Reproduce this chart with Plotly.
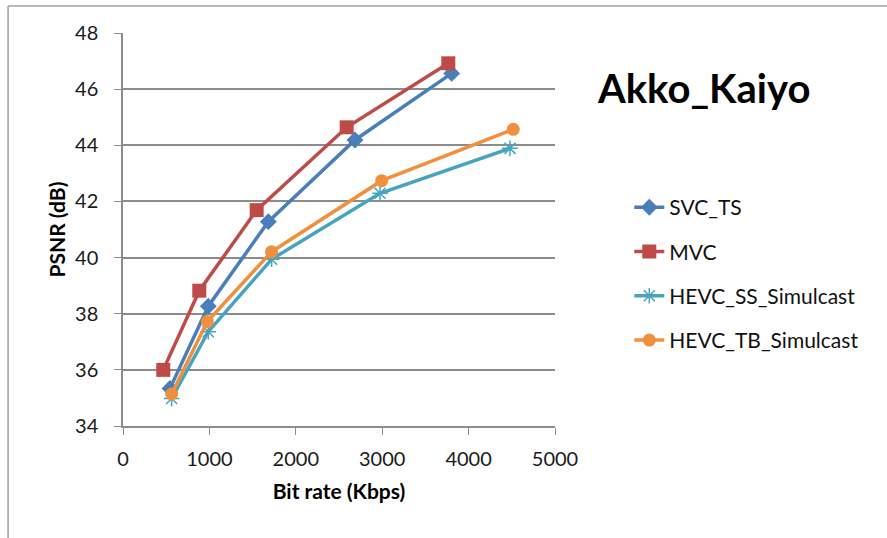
import plotly.graph_objects as go

series_names = ["SVC_TS", "MVC", "HEVC_SS_Simulcast", "HEVC_TB_Simulcast"]
svc_x = [544, 987, 1682, 2685, 3804]
svc_y = [35.34, 38.27, 41.28, 44.19, 46.56]
mvc_x = [466, 883, 1547, 2589, 3765]
mvc_y = [36.0, 38.82, 41.69, 44.64, 46.92]
ss_x = [563, 987, 1720, 2975, 4479]
ss_y = [34.98, 37.36, 39.94, 42.29, 43.89]
tb_x = [563, 976, 1720, 2994, 4517]
tb_y = [35.14, 37.72, 40.21, 42.74, 44.57]

x_ticks = [0, 1000, 2000, 3000, 4000, 5000]
y_ticks = [34, 36, 38, 40, 42, 44, 46, 48]

colors = ["#4A7EBB", "#BE4B48", "#46A4BE", "#F0903F"]
symbols = ["diamond", "square", "asterisk-open", "circle"]
sizes = [13, 14, 13, 13]

xs = [svc_x, mvc_x, ss_x, tb_x]
ys = [svc_y, mvc_y, ss_y, tb_y]

fig = go.Figure()
for i, name in enumerate(series_names):
    fig.add_trace(go.Scatter(
        x=xs[i], y=ys[i], name=name, mode="lines+markers",
        legendgroup=name,
        line=dict(color=colors[i], width=3.5),
        marker=dict(symbol=symbols[i], size=sizes[i], color=colors[i],
                    line=dict(color=colors[i], width=1.5 if i == 2 else 0)),
    ))

font_family = "Lato, 'Open Sans', sans-serif"
grid = "#8C8C8C"
txt = "#1a1a1a"

fig.update_layout(
    width=887, height=538,
    margin=dict(l=123, r=332, t=33, b=112),
    paper_bgcolor="white", plot_bgcolor="white",
    font=dict(family=font_family, size=20, color=txt),
    showlegend=True,
    legend=dict(x=1.172, y=0.608, xanchor="left", yanchor="top",
                font=dict(size=21, color="#111"), tracegroupgap=14,
                bgcolor="rgba(0,0,0,0)"),
    xaxis=dict(range=[0, 5000], tickvals=x_ticks, showgrid=False,
               showline=True, linecolor=grid, linewidth=1.5,
               ticks="outside", ticklen=7, tickcolor=grid, ticklabelstandoff=7,
               tickfont=dict(size=20, color=txt), zeroline=False,
               title=dict(text="<b>Bit rate (Kbps)</b>", font=dict(size=21, color="#000"), standoff=16)),
    yaxis=dict(range=[34, 48], tickvals=y_ticks, showgrid=True, gridcolor=grid,
               gridwidth=1.5, showline=True, linecolor=grid, linewidth=1.5,
               ticks="outside", ticklen=7, tickcolor=grid, ticklabelstandoff=12,
               tickfont=dict(size=20, color=txt), zeroline=False,
               title=dict(text="<b>PSNR (dB)</b>", font=dict(size=21, color="#000"), standoff=4)),
    annotations=[dict(text="<b>Akko_Kaiyo</b>", x=1.093, y=0.86, xref="paper", yref="paper",
                      xanchor="left", yanchor="middle", showarrow=False,
                      font=dict(size=40, color="#000", family=font_family))],
    shapes=[
        dict(type="line", xref="paper", yref="paper", x0=-0.266, x1=1.8, y0=1.069, y1=1.069,
             line=dict(color="#A0A0A0", width=1.5)),
        dict(type="line", xref="paper", yref="paper", x0=-0.266, x1=-0.266, y0=1.069, y1=-0.35,
             line=dict(color="#A0A0A0", width=1.5)),
    ],
)

fig.write_html("out.html")
